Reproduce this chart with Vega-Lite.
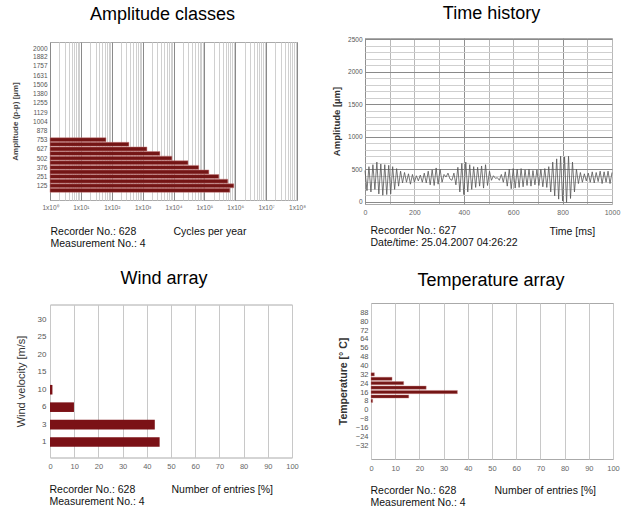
{
  "$schema": "https://vega.github.io/schema/vega-lite/v6.json",
  "autosize": {"type": "pad"},
  "padding": {"left": 10, "top": 4, "right": 0, "bottom": 0},
  "background": "white",
  "config": {
    "font": "Liberation Sans",
    "view": {"stroke": "#aaaaaa", "strokeWidth": 1},
    "axis": {"ticks": false, "domain": false, "labelFont": "Liberation Sans", "titleFont": "Liberation Sans"},
    "title": {"font": "Liberation Sans", "fontSize": 18, "fontWeight": "normal", "color": "#000000", "anchor": "middle", "frame": "group", "baseline": "alphabetic"}
  },
  "bounds": "flush",
  "spacing": 265,
  "vconcat": [
    {
      "hconcat": [
        {
          "width": 247,
          "height": 158,
          "title": {"text": "Amplitude classes", "dx": -11, "offset": 18},
          "data": {"values": [
            {"amplitude": 753, "cycles": 65},
            {"amplitude": 690, "cycles": 360},
            {"amplitude": 627, "cycles": 1380},
            {"amplitude": 564, "cycles": 3630},
            {"amplitude": 502, "cycles": 8900},
            {"amplitude": 439, "cycles": 29500},
            {"amplitude": 376, "cycles": 66000},
            {"amplitude": 314, "cycles": 140000},
            {"amplitude": 251, "cycles": 295000},
            {"amplitude": 188, "cycles": 575000},
            {"amplitude": 125, "cycles": 900000},
            {"amplitude": 63, "cycles": 670000}
          ]},
          "layer": [
            {
              "mark": {"type": "bar", "height": 4, "color": "#741515", "stroke": "#c98585", "strokeWidth": 0.5},
              "encoding": {
                "x": {"field": "cycles", "type": "quantitative",
                  "scale": {"type": "log", "domain": [1, 100000000], "nice": false},
                  "axis": {
                    "values": [1,2,3,4,5,6,7,8,9,10,20,30,40,50,60,70,80,90,100,200,300,400,500,600,700,800,900,1000,2000,3000,4000,5000,6000,7000,8000,9000,10000,20000,30000,40000,50000,60000,70000,80000,90000,100000,200000,300000,400000,500000,600000,700000,800000,900000,1000000,2000000,3000000,4000000,5000000,6000000,7000000,8000000,9000000,10000000,20000000,30000000,40000000,50000000,60000000,70000000,80000000,90000000,100000000],
                    "labelExpr": "abs(log(datum.value)/LN10 - round(log(datum.value)/LN10)) < 0.000001 ? '1x10' + ['⁰','¹','²','³','⁴','⁵','⁶','⁷','⁸'][round(log(datum.value)/LN10)] : ''",
                    "labelOverlap": false,
                    "labelFlush": false,
                    "grid": true,
                    "gridColor": {"condition": {"test": "abs(log(datum.value)/LN10 - round(log(datum.value)/LN10)) < 0.000001", "value": "#8a8a8a"}, "value": "#d0d0d0"},
                    "labelFontSize": 6.5,
                    "labelColor": "#666666",
                    "labelPadding": 4,
                    "title": ["Recorder No.: 628", "Measurement No.: 4"],
                    "titleX": 0,
                    "titleY": 34,
                    "titleAlign": "left",
                    "titleAnchor": "start",
                    "titleBaseline": "alphabetic",
                    "titleFontSize": 10.5,
                    "titleFontWeight": "normal",
                    "titleLineHeight": 12,
                    "titleColor": "#111111"
                  }
                },
                "x2": {"datum": 1},
                "y": {"field": "amplitude", "type": "quantitative",
                  "scale": {"domain": [0, 2015], "nice": false, "zero": false},
                  "axis": {
                    "values": [125, 251, 376, 502, 627, 753, 878, 1004, 1129, 1255, 1380, 1506, 1631, 1757, 1882, 2000],
                    "format": "d",
                    "grid": false,
                    "labelFontSize": 6.5,
                    "labelColor": "#555555",
                    "labelPadding": 3,
                    "title": "Amplitude (p-p) [µm]",
                    "titleFontSize": 8,
                    "titleFontWeight": "bold",
                    "titleColor": "#444444",
                    "titleX": -35,
                    "titleY": 79,
                    "titleBaseline": "middle",
                    "titleAlign": "center"
                  }
                }
              }
            },
            {
              "mark": {"type": "point", "opacity": 0},
              "encoding": {
                "x": {"field": "cycles", "type": "quantitative",
                  "axis": {"orient": "top", "labels": false, "grid": false, "ticks": false, "domain": false,
                    "title": "Cycles per year", "titleX": 123, "titleY": 192, "titleAlign": "left", "titleAnchor": "start",
                    "titleBaseline": "alphabetic", "titleFontSize": 10.5, "titleFontWeight": "normal", "titleColor": "#111111"}
                }
              }
            }
          ],
          "resolve": {"axis": {"x": "independent"}}
        },
        {
          "width": 247,
          "height": 166,
          "title": {"text": "Time history", "dx": 3, "offset": 13},
          "data": {"values": [
            {"t": 0, "v": 480}, {"t": 8, "v": 170}, {"t": 16, "v": 540}, {"t": 24, "v": 150}, {"t": 32, "v": 570}, {"t": 40, "v": 190}, {"t": 48, "v": 610}, {"t": 56, "v": 120}, {"t": 64, "v": 580}, {"t": 72, "v": 100}, {"t": 80, "v": 570}, {"t": 88, "v": 110}, {"t": 96, "v": 560},
            {"t": 104, "v": 120}, {"t": 112, "v": 540}, {"t": 120, "v": 190}, {"t": 128, "v": 510}, {"t": 136, "v": 240}, {"t": 144, "v": 470}, {"t": 152, "v": 290}, {"t": 160, "v": 450}, {"t": 168, "v": 300}, {"t": 176, "v": 430}, {"t": 184, "v": 270}, {"t": 192, "v": 420},
            {"t": 200, "v": 300}, {"t": 208, "v": 400}, {"t": 216, "v": 320}, {"t": 224, "v": 410}, {"t": 232, "v": 300}, {"t": 240, "v": 440}, {"t": 248, "v": 290}, {"t": 256, "v": 470}, {"t": 264, "v": 260}, {"t": 272, "v": 490}, {"t": 280, "v": 250}, {"t": 288, "v": 520}, {"t": 296, "v": 270},
            {"t": 304, "v": 500}, {"t": 312, "v": 300}, {"t": 320, "v": 420}, {"t": 328, "v": 380}, {"t": 336, "v": 440}, {"t": 344, "v": 350}, {"t": 352, "v": 330}, {"t": 360, "v": 440}, {"t": 368, "v": 260}, {"t": 376, "v": 530}, {"t": 384, "v": 150}, {"t": 392, "v": 590},
            {"t": 400, "v": 110}, {"t": 408, "v": 610}, {"t": 416, "v": 150}, {"t": 424, "v": 570}, {"t": 432, "v": 190}, {"t": 440, "v": 540}, {"t": 448, "v": 220}, {"t": 456, "v": 530}, {"t": 464, "v": 240}, {"t": 472, "v": 550}, {"t": 480, "v": 210}, {"t": 488, "v": 570}, {"t": 496, "v": 250},
            {"t": 504, "v": 470}, {"t": 512, "v": 330}, {"t": 520, "v": 400}, {"t": 528, "v": 360}, {"t": 536, "v": 370}, {"t": 544, "v": 330}, {"t": 552, "v": 420}, {"t": 560, "v": 300}, {"t": 568, "v": 460}, {"t": 576, "v": 240}, {"t": 584, "v": 500}, {"t": 592, "v": 200},
            {"t": 600, "v": 510}, {"t": 608, "v": 210}, {"t": 616, "v": 500}, {"t": 624, "v": 220}, {"t": 632, "v": 510}, {"t": 640, "v": 230}, {"t": 648, "v": 490}, {"t": 656, "v": 250}, {"t": 664, "v": 500}, {"t": 672, "v": 240}, {"t": 680, "v": 480}, {"t": 688, "v": 260}, {"t": 696, "v": 490},
            {"t": 704, "v": 250}, {"t": 712, "v": 500}, {"t": 720, "v": 230}, {"t": 728, "v": 510}, {"t": 736, "v": 220}, {"t": 744, "v": 540}, {"t": 752, "v": 150}, {"t": 760, "v": 610}, {"t": 768, "v": 90}, {"t": 776, "v": 660}, {"t": 784, "v": 40}, {"t": 792, "v": 700},
            {"t": 800, "v": 10}, {"t": 808, "v": 690}, {"t": 816, "v": -10}, {"t": 824, "v": 700}, {"t": 832, "v": 50}, {"t": 840, "v": 610}, {"t": 848, "v": 150}, {"t": 856, "v": 500}, {"t": 864, "v": 280}, {"t": 872, "v": 450}, {"t": 880, "v": 300}, {"t": 888, "v": 430}, {"t": 896, "v": 320},
            {"t": 904, "v": 440}, {"t": 912, "v": 300}, {"t": 920, "v": 460}, {"t": 928, "v": 290}, {"t": 936, "v": 450}, {"t": 944, "v": 310}, {"t": 952, "v": 470}, {"t": 960, "v": 280}, {"t": 968, "v": 460}, {"t": 976, "v": 300}, {"t": 984, "v": 470}, {"t": 992, "v": 280}, {"t": 1000, "v": 450}
          ]},
          "layer": [
            {
              "mark": {"type": "line", "color": "#555555", "strokeWidth": 0.8},
              "encoding": {
                "x": {"field": "t", "type": "quantitative",
                  "scale": {"domain": [0, 1000], "nice": false},
                  "axis": {
                    "values": [0, 100, 200, 300, 400, 500, 600, 700, 800, 900, 1000],
                    "labelExpr": "datum.value % 200 === 0 ? datum.label : ''",
                    "format": "d",
                    "labelOverlap": false,
                    "labelFlush": false,
                    "grid": true,
                    "gridColor": {"condition": {"test": "datum.value % 400 === 0", "value": "#909090"}, "value": "#b8b8b8"},
                    "labelFontSize": 7,
                    "labelColor": "#666666",
                    "labelPadding": 4,
                    "title": ["Recorder No.: 627", "Date/time: 25.04.2007 04:26:22"],
                    "titleX": 5,
                    "titleY": 29,
                    "titleAlign": "left",
                    "titleAnchor": "start",
                    "titleBaseline": "alphabetic",
                    "titleFontSize": 10.5,
                    "titleFontWeight": "normal",
                    "titleLineHeight": 12,
                    "titleColor": "#111111"
                  }
                },
                "y": {"field": "v", "type": "quantitative",
                  "scale": {"domain": [-35, 2520], "nice": false, "zero": false},
                  "axis": {
                    "values": [0, 100, 200, 300, 400, 500, 600, 700, 800, 900, 1000, 1100, 1200, 1300, 1400, 1500, 1600, 1700, 1800, 1900, 2000, 2100, 2200, 2300, 2400, 2500],
                    "labelExpr": "datum.value % 500 === 0 ? datum.label : ''",
                    "format": "d",
                    "labelOverlap": false,
                    "grid": true,
                    "gridColor": {"condition": {"test": "datum.value % 500 === 0", "value": "#8a8a8a"}, "value": "#cfcfcf"},
                    "labelFontSize": 6.5,
                    "labelColor": "#555555",
                    "labelPadding": 3,
                    "title": "Amplitude [µm]",
                    "titleFontSize": 9.5,
                    "titleFontWeight": "bold",
                    "titleColor": "#333333",
                    "titleX": -29,
                    "titleY": 83,
                    "titleBaseline": "middle",
                    "titleAlign": "center"
                  }
                }
              }
            },
            {
              "mark": {"type": "point", "opacity": 0},
              "encoding": {
                "x": {"field": "t", "type": "quantitative",
                  "axis": {"orient": "top", "labels": false, "grid": false, "ticks": false, "domain": false,
                    "title": "Time [ms]", "titleX": 184, "titleY": 196, "titleAlign": "left", "titleAnchor": "start",
                    "titleBaseline": "alphabetic", "titleFontSize": 10.5, "titleFontWeight": "normal", "titleColor": "#111111"}
                }
              }
            }
          ],
          "resolve": {"axis": {"x": "independent"}}
        }
      ],
      "spacing": 68,
      "bounds": "flush",
      "center": true
    },
    {
      "hconcat": [
        {
          "width": 242,
          "height": 153,
          "title": {"text": "Wind array", "dx": -7, "offset": 17},
          "data": {"values": [
            {"velocity": "1", "entries": 45.3},
            {"velocity": "3", "entries": 43.3},
            {"velocity": "6", "entries": 9.9},
            {"velocity": "10", "entries": 1.0}
          ]},
          "layer": [
            {
              "mark": {"type": "bar", "color": "#7b1116"},
              "encoding": {
                "y": {"field": "velocity", "type": "ordinal",
                  "scale": {"domain": ["30", "25", "20", "15", "10", "6", "3", "1"], "paddingInner": 0.45, "paddingOuter": 0.61},
                  "axis": {
                    "grid": false,
                    "labelFontSize": 8,
                    "labelColor": "#555555",
                    "labelPadding": 4,
                    "title": "Wind velocity [m/s]",
                    "titleFontSize": 11,
                    "titleFontWeight": "normal",
                    "titleColor": "#333333",
                    "titleX": -29,
                    "titleY": 76.5,
                    "titleBaseline": "middle",
                    "titleAlign": "center"
                  }
                },
                "x": {"field": "entries", "type": "quantitative",
                  "scale": {"domain": [0, 100], "nice": false},
                  "axis": {
                    "values": [0, 10, 20, 30, 40, 50, 60, 70, 80, 90, 100],
                    "format": "d",
                    "labelOverlap": false,
                    "labelFlush": false,
                    "grid": true,
                    "gridColor": "#c8c8c8",
                    "labelFontSize": 7.5,
                    "labelColor": "#666666",
                    "labelPadding": 5,
                    "title": ["Recorder No.: 628", "Measurement No.: 4"],
                    "titleX": -1,
                    "titleY": 35,
                    "titleAlign": "left",
                    "titleAnchor": "start",
                    "titleBaseline": "alphabetic",
                    "titleFontSize": 10.5,
                    "titleFontWeight": "normal",
                    "titleLineHeight": 12,
                    "titleColor": "#111111"
                  }
                }
              }
            },
            {
              "mark": {"type": "point", "opacity": 0},
              "encoding": {
                "x": {"field": "entries", "type": "quantitative",
                  "axis": {"orient": "top", "labels": false, "grid": false, "ticks": false, "domain": false,
                    "title": "Number of entries [%]", "titleX": 121, "titleY": 188, "titleAlign": "left", "titleAnchor": "start",
                    "titleBaseline": "alphabetic", "titleFontSize": 10.5, "titleFontWeight": "normal", "titleColor": "#111111"}
                }
              }
            }
          ],
          "resolve": {"axis": {"x": "independent"}}
        },
        {
          "width": 242,
          "height": 156,
          "title": {"text": "Temperature array", "dx": -1, "offset": 13},
          "data": {"values": [
            {"temperature": 32, "entries": 1.4},
            {"temperature": 28, "entries": 8.7},
            {"temperature": 24, "entries": 13.5},
            {"temperature": 20, "entries": 22.8},
            {"temperature": 16, "entries": 35.7},
            {"temperature": 12, "entries": 15.6},
            {"temperature": 8, "entries": 0.7}
          ]},
          "layer": [
            {
              "mark": {"type": "bar", "orient": "horizontal", "height": 3.2, "color": "#741515", "stroke": "#c98585", "strokeWidth": 0.4},
              "encoding": {
                "y": {"field": "temperature", "type": "quantitative",
                  "scale": {"domain": [-40, 92], "nice": false, "zero": false},
                  "axis": {
                    "values": [-32, -24, -16, -8, 0, 8, 16, 24, 32, 40, 48, 56, 64, 72, 80, 88],
                    "format": "d",
                    "labelOverlap": false,
                    "grid": false,
                    "labelFontSize": 7.5,
                    "labelColor": "#555555",
                    "labelPadding": 3,
                    "title": "Temperature [° C]",
                    "titleFontSize": 10.5,
                    "titleFontWeight": "bold",
                    "titleColor": "#333333",
                    "titleX": -28,
                    "titleY": 78,
                    "titleBaseline": "middle",
                    "titleAlign": "center"
                  }
                },
                "x": {"field": "entries", "type": "quantitative",
                  "scale": {"domain": [0, 100], "nice": false},
                  "axis": {
                    "values": [0, 10, 20, 30, 40, 50, 60, 70, 80, 90, 100],
                    "format": "d",
                    "labelOverlap": false,
                    "labelFlush": false,
                    "grid": true,
                    "gridColor": "#c8c8c8",
                    "labelFontSize": 7.5,
                    "labelColor": "#666666",
                    "labelPadding": 5,
                    "title": ["Recorder No.: 628", "Measurement No.: 4"],
                    "titleX": -1,
                    "titleY": 34,
                    "titleAlign": "left",
                    "titleAnchor": "start",
                    "titleBaseline": "alphabetic",
                    "titleFontSize": 10.5,
                    "titleFontWeight": "normal",
                    "titleLineHeight": 12,
                    "titleColor": "#111111"
                  }
                }
              }
            },
            {
              "mark": {"type": "point", "opacity": 0},
              "encoding": {
                "x": {"field": "entries", "type": "quantitative",
                  "axis": {"orient": "top", "labels": false, "grid": false, "ticks": false, "domain": false,
                    "title": "Number of entries [%]", "titleX": 123, "titleY": 190, "titleAlign": "left", "titleAnchor": "start",
                    "titleBaseline": "alphabetic", "titleFontSize": 10.5, "titleFontWeight": "normal", "titleColor": "#111111"}
                }
              }
            }
          ],
          "resolve": {"axis": {"x": "independent"}}
        }
      ],
      "spacing": 79,
      "bounds": "flush",
      "center": true
    }
  ]
}
